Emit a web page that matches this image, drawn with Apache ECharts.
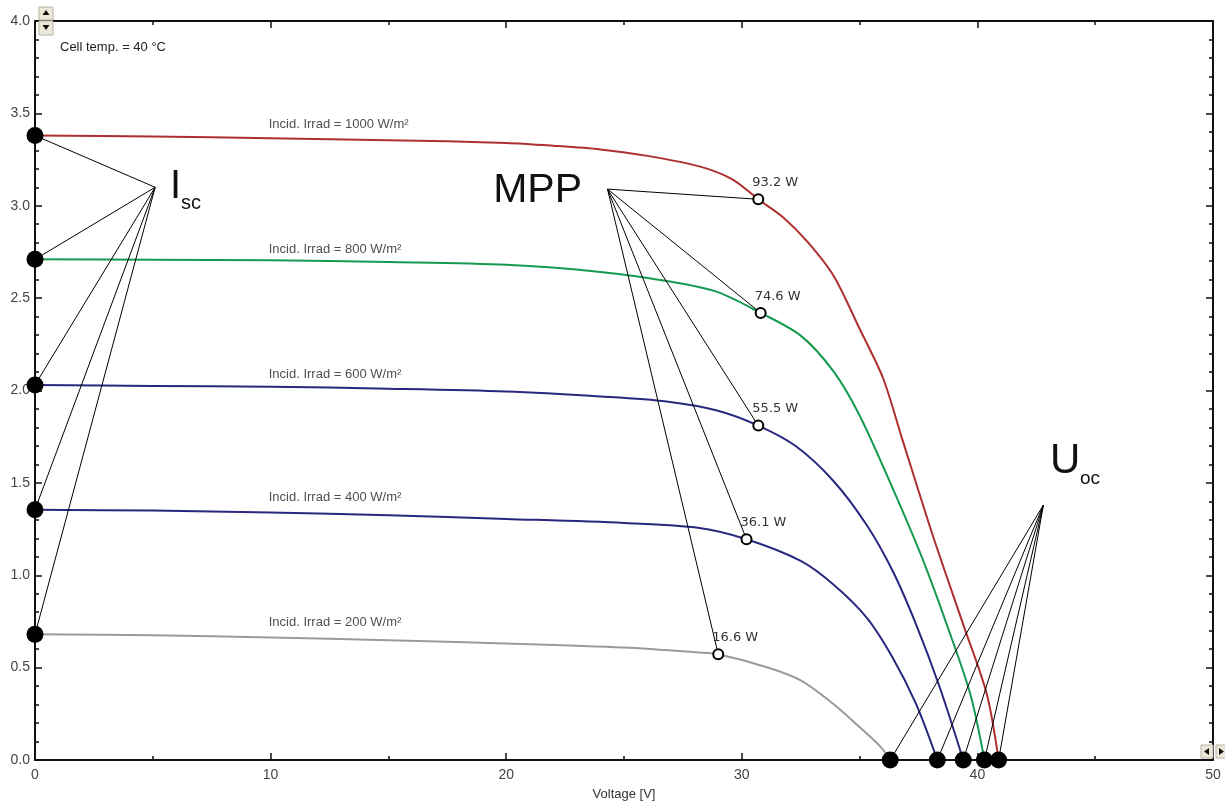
<!DOCTYPE html>
<html>
<head>
<meta charset="utf-8">
<script src="https://cdn.jsdelivr.net/npm/echarts@6/dist/echarts.min.js"></script>
<style>
  html, body { margin: 0; padding: 0; background: #fff; }
  #main { width: 1225px; height: 806px; }
</style>
</head>
<body>
<div id="main"></div>
<script>
// I-V curves, [voltage V, current A]
const curve1000 = [[0, 3.38], [5, 3.375], [10, 3.365], [15, 3.355], [20, 3.34], [22, 3.325], [24, 3.305], [26, 3.27], [28.2, 3.213], [29.6, 3.143], [30.7, 3.035], [31.75, 2.938], [32.8, 2.803], [33.9, 2.62], [35, 2.334], [36, 2.065], [36.8, 1.741], [38.1, 1.218], [39.4, 0.733], [40.4, 0.356], [40.9, 0]];
const curve800 = [[0, 2.71], [5, 2.708], [10, 2.705], [15, 2.695], [20, 2.68], [24, 2.642], [26.8, 2.593], [28.95, 2.534], [30.8, 2.42], [32.5, 2.297], [33.9, 2.102], [35, 1.865], [36.4, 1.472], [37.6, 1.111], [38.7, 0.733], [39.7, 0.356], [40.3, 0]];
const curve600 = [[0, 2.03], [5, 2.025], [10, 2.02], [15, 2.01], [20, 1.995], [24, 1.968], [26.8, 1.941], [28.95, 1.892], [30.7, 1.81], [32.3, 1.698], [33.9, 1.509], [35.3, 1.272], [36.4, 1.024], [37.4, 0.733], [38.4, 0.394], [39.4, 0]];
const curve400 = [[0, 1.355], [5, 1.35], [10, 1.34], [15, 1.325], [20, 1.305], [25, 1.283], [28.2, 1.256], [30.2, 1.195], [32.5, 1.078], [33.9, 0.949], [35.3, 0.771], [36.4, 0.555], [37.4, 0.302], [38.3, 0]];
const curve200 = [[0, 0.68], [5, 0.675], [10, 0.663], [15, 0.648], [20, 0.631], [25, 0.609], [28.2, 0.582], [29.0, 0.572], [31.1, 0.501], [32.5, 0.431], [33.9, 0.302], [35.0, 0.178], [35.9, 0.07], [36.3, 0]];

const irradLabels = ['Incid. Irrad = 1000 W/m²', 'Incid. Irrad = 800 W/m²', 'Incid. Irrad = 600 W/m²', 'Incid. Irrad = 400 W/m²', 'Incid. Irrad = 200 W/m²'];
const irradLabelY = [3.44, 2.766, 2.086, 1.423, 0.744];
const irradLabelX = 9.9;

const mppPoints = [[30.7, 3.035], [30.8, 2.42], [30.7, 1.81], [30.2, 1.195], [29.0, 0.572]];
const mppLabels = ['93.2 W', '74.6 W', '55.5 W', '36.1 W', '16.6 W'];
const iscValues = [3.38, 2.71, 2.03, 1.355, 0.68];
const vocValues = [40.9, 40.3, 39.4, 38.3, 36.3];

// where the callout lines meet
const iscFocus = [5.1, 3.1];
const mppFocus = [24.3, 3.09];
const vocFocus = [42.8, 1.38];

const font = '"Liberation Sans", Arial, sans-serif';
const colors = ['#ad2f30', '#159a4f', '#28287f', '#28287f', '#9a9a9a'];
const curves = [curve1000, curve800, curve600, curve400, curve200];

const chart = echarts.init(document.getElementById('main'));

const callouts = [];
iscValues.forEach(v => callouts.push({ coords: [iscFocus, [0, v]] }));
mppPoints.forEach(p => callouts.push({ coords: [mppFocus, p] }));
vocValues.forEach(v => callouts.push({ coords: [vocFocus, [v, 0]] }));

const axisCommon = {
    type: 'value',
    splitLine: { show: false },
    axisLine: { onZero: false, lineStyle: { color: '#111', width: 2 } },
    axisTick: { inside: true, length: 7, lineStyle: { color: '#111', width: 1.5 } },
    minorTick: { show: true, length: 4, lineStyle: { color: '#111', width: 1.5 } }
};

const series = curves.map((c, i) => ({
    type: 'line',
    data: c,
    smooth: 0.3,
    symbol: 'none',
    lineStyle: { color: colors[i], width: 2 },
    z: 2
}));

series.push({
    type: 'scatter',
    data: irradLabels.map((t, i) => [irradLabelX, irradLabelY[i], t]),
    symbolSize: 1,
    itemStyle: { color: 'rgba(0,0,0,0)' },
    label: {
        show: true, position: 'right', distance: 0,
        formatter: p => p.data[2],
        color: '#222', fontSize: 13, fontFamily: font
    },
    silent: true,
    z: 3
});

series.push({
    type: 'lines',
    coordinateSystem: 'cartesian2d',
    data: callouts,
    lineStyle: { color: '#000', width: 1, opacity: 1 },
    silent: true,
    z: 4
});

series.push({
    type: 'scatter',
    data: iscValues.map(v => [0, v]).concat(vocValues.map(v => [v, 0])),
    symbolSize: 17,
    itemStyle: { color: '#000', opacity: 1 },
    clip: false,
    z: 5
});

series.push({
    type: 'scatter',
    data: mppPoints.map((p, i) => [p[0], p[1], mppLabels[i]]),
    symbolSize: 10,
    itemStyle: { color: '#fff', borderColor: '#000', borderWidth: 2, opacity: 1 },
    label: {
        show: true, position: 'top', align: 'left', distance: 4, offset: [-6, 0],
        formatter: p => p.data[2],
        color: '#333', fontSize: 13, fontFamily: '"DejaVu Sans", sans-serif'
    },
    z: 6
});

const button = (x, y, w, h, pts) => [
    { type: 'rect', shape: { x, y, width: w, height: h }, style: { fill: '#ece9d8', stroke: '#b5b2a5', lineWidth: 1 }, z: 100 },
    { type: 'polygon', shape: { points: pts }, style: { fill: '#111' }, z: 101 }
];

chart.setOption({
    backgroundColor: '#fff',
    animation: false,
    grid: { left: 35, right: 12, top: 21, bottom: 43 },
    xAxis: [
        Object.assign({}, axisCommon, {
            min: 0, max: 50, interval: 10,
            minorTick: Object.assign({}, axisCommon.minorTick, { splitNumber: 2 }),
            axisLabel: { color: '#444', fontSize: 14, margin: 8, fontFamily: font },
            name: 'Voltage [V]', nameLocation: 'middle', nameGap: 28,
            nameTextStyle: { color: '#333', fontSize: 13, fontFamily: font }
        }),
        Object.assign({}, axisCommon, {
            position: 'top', min: 0, max: 50, interval: 10,
            minorTick: Object.assign({}, axisCommon.minorTick, { splitNumber: 2 }),
            axisLabel: { show: false }
        })
    ],
    yAxis: [
        Object.assign({}, axisCommon, {
            min: 0, max: 4, interval: 0.5,
            minorTick: Object.assign({}, axisCommon.minorTick, { splitNumber: 5 }),
            axisLabel: { color: '#444', fontSize: 14, margin: 5, fontFamily: font, formatter: v => v.toFixed(1) }
        }),
        Object.assign({}, axisCommon, {
            position: 'right', min: 0, max: 4, interval: 0.5,
            minorTick: Object.assign({}, axisCommon.minorTick, { splitNumber: 5 }),
            axisLabel: { show: false }
        })
    ],
    graphic: [
        { type: 'text', x: 60, y: 47, style: { text: 'Cell temp. = 40 °C', font: '13px ' + font, fill: '#222', textVerticalAlign: 'middle' }, z: 50 },
        { type: 'text', x: 170, y: 187, style: { text: 'I', font: '40px ' + font, fill: '#111', textVerticalAlign: 'middle' }, z: 50 },
        { type: 'text', x: 181, y: 203, style: { text: 'sc', font: '20px ' + font, fill: '#111', textVerticalAlign: 'middle' }, z: 50 },
        { type: 'text', x: 582, y: 191, style: { text: 'MPP', font: '41px ' + font, fill: '#111', textAlign: 'right', textVerticalAlign: 'middle' }, z: 50 },
        { type: 'text', x: 1050, y: 461, style: { text: 'U', font: '42px ' + font, fill: '#111', textVerticalAlign: 'middle' }, z: 50 },
        { type: 'text', x: 1080, y: 479, style: { text: 'oc', font: '19px ' + font, fill: '#111', textVerticalAlign: 'middle' }, z: 50 }
    ].concat(
        button(39, 7, 14, 13, [[46, 10], [42.5, 15], [49.5, 15]]),
        button(39, 21, 14, 14, [[42.5, 25], [49.5, 25], [46, 30]]),
        button(1201, 745, 12, 13, [[1204, 751.5], [1209, 748], [1209, 755]]),
        button(1216, 745, 12, 13, [[1224, 751.5], [1219, 748], [1219, 755]])
    ),
    series
});
</script>
</body>
</html>
